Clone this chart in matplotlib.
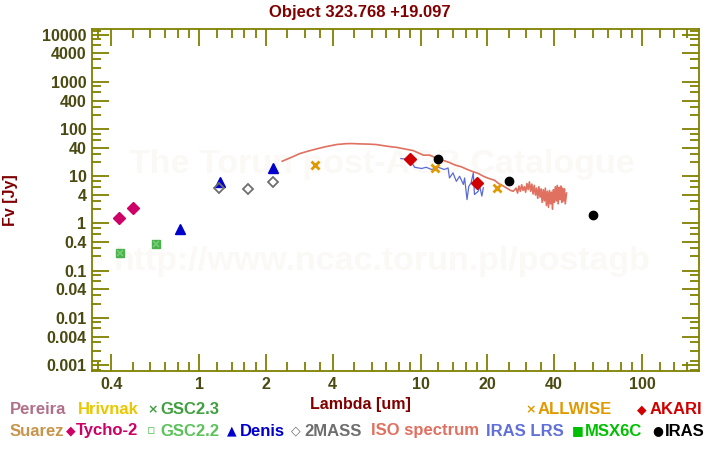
import matplotlib
matplotlib.use("Agg")
import matplotlib.pyplot as plt
from matplotlib.ticker import NullFormatter

# photometry (wavelength in um, flux in Jy)
tycho_wl = [0.435, 0.50]
tycho_fx = [1.28, 2.08]
gsc22_wl = [0.44, 0.64]
gsc22_fx = [0.231, 0.359]
denis_wl = [0.82, 1.24, 2.16]
denis_fx = [0.78, 7.46, 14.8]
twomass_wl = [1.23, 1.66, 2.16]
twomass_fx = [5.57, 5.3, 7.46]
allwise_wl = [3.34, 11.6, 22.2]
allwise_fx = [17.4, 15.3, 5.68]
akari_wl = [8.97, 18.0]
akari_fx = [23.4, 7.35]
iras_wl = [12.0, 25.0, 60.0]
iras_fx = [23.6, 8.0, 1.48]

# ISO spectrum
iso_wl = [2.37, 2.6, 2.85, 3.1, 3.39, 3.7, 4.17, 4.6, 4.88, 5.3, 5.8, 6.3, 6.9, 7.4,
          7.78, 8.2, 8.7, 9.25, 9.8, 10.3, 11.0, 11.6, 12.2, 12.9, 13.5, 14.2, 15.3,
          16.2, 17.0, 18.2, 19.2, 20.3, 21.6, 22.5, 23.5, 24.5, 25.5, 26.2,
          27.0, 27.4, 27.8, 28.2, 28.6, 29.0, 29.4, 29.8, 30.2, 30.6, 31.0, 31.4,
          31.8, 32.2, 32.6, 33.0, 33.4, 33.8, 34.2, 34.6, 35.0, 35.4, 35.8, 36.2,
          36.6, 37.0, 37.4, 37.8, 38.2, 38.6, 39.0, 39.4, 39.8, 40.2, 40.6, 41.0,
          41.4, 41.8, 42.2, 42.6, 43.0, 43.4, 43.8, 44.2, 44.6, 45.0, 45.6]
iso_fx = [20.8, 25, 30.3, 34, 38, 42, 47, 49, 49.3, 48.5, 48, 47, 44, 42,
          41, 39, 37, 35, 31, 28, 28, 25, 23, 21, 19.5, 17.5, 15.8,
          14, 12.8, 11.5, 10, 9, 8.2, 7, 6.3, 5.6, 5.0, 4.8,
          5.6, 4.4, 6.2, 4.8, 6.6, 5.0, 6.0, 4.6, 7.0, 5.2, 7.6, 4.8,
          6.8, 4.2, 6.4, 4.0, 5.6, 3.4, 6.0, 3.6, 5.4, 2.8, 5.2, 3.0,
          5.6, 2.4, 4.8, 2.2, 5.0, 2.6, 4.6, 2.0, 5.2, 2.8, 6.0, 3.0,
          6.4, 2.6, 5.8, 3.2, 6.2, 2.8, 5.6, 3.0, 5.4, 2.6, 4.4]

# IRAS LRS spectrum
lrs_wl = [8.14, 8.94, 9.4, 10.1, 10.6, 11.2, 12.0, 12.8, 13.3, 13.5, 14.0, 14.5,
          15.0, 15.6, 15.8, 16.2, 16.5, 16.9, 17.3, 17.5, 18.2, 18.5, 18.9, 19.2]
lrs_fx = [23.7, 22.6, 15.5, 14.6, 15.5, 13.9, 15.5, 13.9, 15.0, 9.2, 11.8, 7.8,
          10.0, 6.7, 9.2, 3.2, 6.1, 7.2, 11.8, 4.1, 4.8, 6.1, 3.8, 5.7]

x_major = [0.4, 1, 2, 4, 10, 20, 40, 100]
x_labels = ["0.4", "1", "2", "4", "10", "20", "40", "100"]
x_minor = [0.35, 0.5, 0.6, 0.7, 0.8, 0.9, 1.2, 1.4, 1.6, 1.8, 2.5, 3, 3.5,
           5, 6, 7, 8, 9, 12, 14, 16, 18, 25, 30, 35, 50, 60, 70, 80, 90,
           120, 140, 160]
y_major = [0.001, 0.004, 0.01, 0.04, 0.1, 0.4, 1, 4, 10, 40, 100, 400, 1000, 4000, 10000]
y_labels = ["0.001", "0.004", "0.01", "0.04", "0.1", "0.4", "1", "4", "10", "40",
            "100", "400", "1000", "4000", "10000"]
y_minor = [0.0008, 0.0012, 0.002, 0.003, 0.006, 0.008, 0.02, 0.03, 0.06, 0.08,
           0.2, 0.3, 0.6, 0.8, 2, 3, 6, 8, 20, 30, 60, 80, 200, 300, 600, 800,
           2000, 3000, 6000, 8000, 12000]

AXIS = "#808000"
LABEL = "#4a4a12"
DARKRED = "#800000"

plt.rcParams["font.family"] = ["Liberation Sans", "DejaVu Sans"]

fig = plt.figure(figsize=(7.2, 4.5), dpi=100)
ax = fig.add_axes([92 / 720, 1 - 371 / 450, 607 / 720, 342 / 450])
ax.set_xscale("log")
ax.set_yscale("log")
ax.set_xlim(0.328, 180.8)
ax.set_ylim(0.000746, 13200)

# watermark
ax.text(0.478, 0.605, "The Torun post-AGB Catalogue", transform=ax.transAxes,
        ha="center", va="center", fontsize=24.5, fontweight="bold", color="#fbf9f5", zorder=0)
ax.text(0.478, 0.32, "http://www.ncac.torun.pl/postagb", transform=ax.transAxes,
        ha="center", va="center", fontsize=24.5, fontweight="bold", color="#fbf9f5", zorder=0)

ax.plot(iso_wl, iso_fx, color="#e07060", linewidth=1.2, zorder=2)
ax.plot(lrs_wl, lrs_fx, color="#5a6ad6", linewidth=0.9, zorder=3)

ax.plot(tycho_wl, tycho_fx, "D", color="#cc0066", markersize=6, zorder=4)
ax.plot(gsc22_wl, gsc22_fx, "s", color="#4cb04c", markersize=6, zorder=4)
ax.plot(gsc22_wl, gsc22_fx, "x", color="#70d070", markersize=5, mew=1.2, zorder=5)
ax.plot(denis_wl, denis_fx, "^", color="#0000cc", markersize=6.5, zorder=4)
ax.plot(twomass_wl, twomass_fx, "D", mfc="none", mec="#6e6e6e", mew=1.3, markersize=5.5, zorder=4)
ax.plot(allwise_wl, allwise_fx, "x", color="#e09a00", markersize=6, mew=2, zorder=5)
ax.plot(akari_wl, akari_fx, "D", color="#d00000", markersize=6, zorder=5)
ax.plot(iras_wl, iras_fx, "o", color="black", markersize=6, zorder=6)

for s in ax.spines.values():
    s.set_color(AXIS)
    s.set_linewidth(1.3)
ax.set_xticks(x_major, labels=x_labels)
ax.set_xticks(x_minor, minor=True)
ax.set_yticks(y_major, labels=y_labels)
ax.set_yticks(y_minor, minor=True)
ax.xaxis.set_minor_formatter(NullFormatter())
ax.yaxis.set_minor_formatter(NullFormatter())
ax.tick_params(which="both", direction="in", top=True, right=True, color=AXIS, width=1.3)
ax.tick_params(which="major", length=12.5, pad=4, labelsize=11.5, labelcolor=LABEL)
ax.tick_params(which="minor", length=6.5)
for lab in ax.get_xticklabels() + ax.get_yticklabels():
    lab.set_fontweight("bold")

fig.text(0.5, 1 - 12 / 450, "Object 323.768 +19.097", ha="center", va="center",
         fontsize=12, fontweight="bold", color=DARKRED)
fig.text(10 / 720, 1 - 200 / 450, "Fv [Jy]", rotation=90, ha="center",
         va="center", fontsize=11.5, fontweight="bold", color=DARKRED)
fig.text(360 / 720, 1 - 404 / 450, "Lambda [um]", ha="center", va="center",
         fontsize=11.5, fontweight="bold", color=DARKRED)

# legend texts (symbol, label, colour, x px, y px)
legend = [
    ("", "Pereira", "#b0708a", 10, 410),
    ("", "Hrivnak", "#e8c800", 78, 410),
    ("\u00d7", "GSC2.3", "#40a040", 147, 410),
    ("\u00d7", "ALLWISE", "#e09a00", 525, 410),
    ("\u25c6", "AKARI", "#d00000", 637, 410),
    ("", "Suarez", "#c8944a", 10, 431),
    ("\u25c6", "Tycho-2", "#cc0066", 66, 431),
    ("\u25ab", "GSC2.2", "#5cc25c", 147, 431),
    ("\u25b2", "Denis", "#0000cc", 227, 431),
    ("\u25c7", "2MASS", "#6e6e6e", 291, 431),
    ("", "ISO spectrum", "#e07060", 371, 431),
    ("", "IRAS LRS", "#6070d8", 486, 431),
    ("\u25a0", "MSX6C", "#00c000", 572, 431),
    ("\u25cf", "IRAS", "#000000", 652, 431),
]
for sym, name, col, x, y in legend:
    if sym:
        fig.text(x / 720, 1 - y / 450, sym, ha="left", va="center", fontsize=9,
                 fontweight="bold", color=col, family="DejaVu Sans")
        tx = x + (10 if name == "Tycho-2" else 13)
    else:
        tx = x
    fig.text(tx / 720, 1 - y / 450, name, ha="left", va="center", fontsize=12,
             fontweight="bold", color=col)

fig.savefig("out.png", dpi=100)
